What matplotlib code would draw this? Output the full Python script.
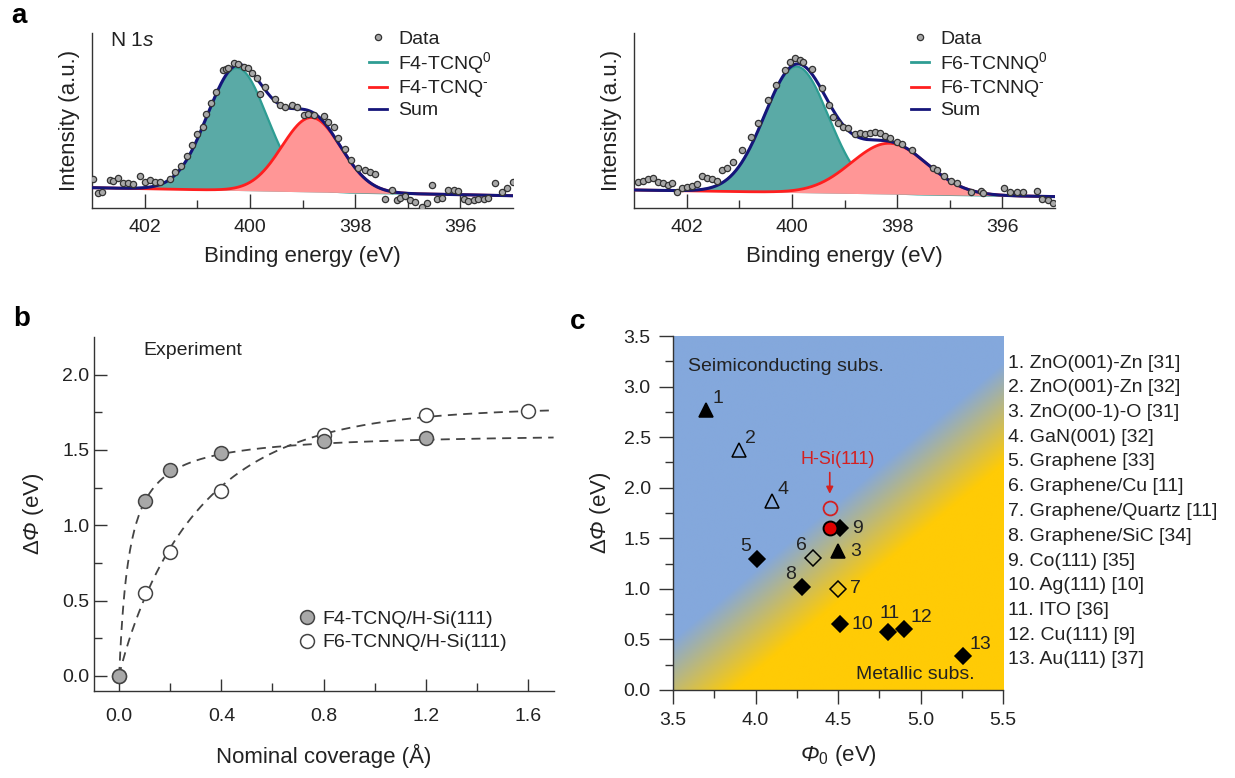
import numpy as np
import matplotlib.pyplot as plt
from matplotlib.lines import Line2D

plt.rcParams['font.family'] = ['Liberation Sans', 'DejaVu Sans']
plt.rcParams['mathtext.fontset'] = 'custom'
plt.rcParams['mathtext.rm'] = 'Liberation Sans'
plt.rcParams['mathtext.it'] = 'Liberation Sans:italic'
plt.rcParams['mathtext.bf'] = 'Liberation Sans:bold'
# slanted Greek capitals are not available through \mathit, so borrow the cal slot
plt.rcParams['mathtext.cal'] = 'Liberation Sans:italic'
plt.rcParams['text.color'] = '#222222'
plt.rcParams['axes.labelcolor'] = '#222222'
plt.rcParams['xtick.color'] = '#333333'
plt.rcParams['ytick.color'] = '#333333'
plt.rcParams['xtick.labelcolor'] = '#222222'
plt.rcParams['ytick.labelcolor'] = '#222222'

W, H = 1235, 778

# ---------------- panel a: N 1s spectra ----------------
f4_energy = [402.98, 402.89, 402.81, 402.66, 402.60, 402.51, 402.41, 402.32, 402.22, 402.09,
             402.00, 401.90, 401.81, 401.71, 401.52, 401.42, 401.30, 401.20, 401.10, 401.00,
             400.89, 400.83, 400.73, 400.64, 400.51, 400.45, 400.41, 400.31, 400.22, 400.12,
             400.03, 399.96, 399.87, 399.81, 399.71, 399.52, 399.43, 399.33, 399.20, 399.11,
             398.98, 398.89, 398.79, 398.60, 398.51, 398.41, 398.32, 398.20, 398.08, 397.95,
             397.82, 397.71, 397.62, 397.43, 397.30, 397.21, 397.14, 397.05, 396.95, 396.86,
             396.73, 396.64, 396.54, 396.45, 396.35, 396.23, 396.13, 396.04, 395.94, 395.85,
             395.75, 395.66, 395.56, 395.47, 395.34, 395.21, 395.11, 395.00]
f4_counts = [16.6, 8.4, 9.0, 16.0, 15.4, 17.3, 14.1, 14.1, 13.5, 18.5,
             15.0, 15.8, 14.7, 15.0, 16.5, 20.4, 24.0, 29.5, 36.0, 42.3,
             46.5, 53.5, 60.0, 66.5, 78.9, 79.4, 79.8, 82.7, 82.1, 80.8,
             79.8, 77.0, 74.5, 65.0, 69.3, 62.3, 58.9, 57.9, 58.9, 57.9,
             53.1, 53.5, 53.1, 52.8, 49.3, 46.5, 39.8, 33.5, 27.5, 23.0,
             21.5, 20.8, 19.3, 5.0, 10.3, 4.6, 5.5, 7.0, 4.6, 3.6,
             0.8, 2.7, 13.1, 5.1, 5.5, 10.3, 10.3, 9.7, 5.1, 4.0,
             4.6, 5.1, 5.1, 5.9, 14.1, 9.3, 11.2, 15.0]

f6_energy = [402.92, 402.82, 402.73, 402.63, 402.54, 402.44, 402.35, 402.28, 402.19, 402.09,
             402.00, 401.90, 401.81, 401.71, 401.62, 401.52, 401.43, 401.33, 401.24, 401.11,
             400.95, 400.78, 400.64, 400.45, 400.30, 400.13, 400.03, 399.94, 399.84, 399.78,
             399.62, 399.43, 399.30, 399.21, 399.12, 399.02, 398.93, 398.80, 398.70, 398.61,
             398.51, 398.42, 398.32, 398.23, 398.13, 398.01, 397.91, 397.72, 397.31, 397.25,
             397.10, 396.97, 396.87, 396.60, 396.40, 396.36, 395.97, 395.85, 395.73, 395.61,
             395.34, 395.25, 395.13, 395.03]
f6_counts = [14.7, 15.4, 16.6, 17.0, 15.0, 14.1, 13.1, 14.1, 9.0, 11.6,
             12.2, 12.7, 13.5, 18.5, 17.3, 16.6, 15.4, 21.7, 22.7, 26.5,
             33.0, 40.6, 48.4, 61.7, 70.0, 78.9, 83.6, 85.5, 84.6, 83.6,
             79.4, 68.4, 59.0, 52.2, 48.4, 46.5, 45.9, 42.1, 42.7, 42.3,
             42.7, 43.2, 42.7, 41.3, 40.2, 37.5, 36.4, 33.0, 22.7, 21.7,
             18.0, 15.5, 14.5, 9.3, 9.9, 8.8, 11.2, 9.3, 9.0, 9.3,
             9.9, 5.0, 4.6, 2.7]

# Gaussian components: (centre / eV, height, sigma / eV); background at 403 eV and 395 eV
f4_neutral = (400.24, 70.0, 0.57)
f4_anion = (398.83, 42.5, 0.56)
f4_bg = (11.6, 7.0)
f6_neutral = (399.91, 72.0, 0.61)
f6_anion = (398.15, 29.0, 0.72)
f6_bg = (10.3, 6.5)

# ---------------- panel b: work function change vs coverage ----------------
f4_cov = [0.0, 0.1, 0.2, 0.4, 0.8, 1.2]
f4_dphi = [0.0, 1.16, 1.37, 1.48, 1.56, 1.58]
f6_cov = [0.0, 0.1, 0.2, 0.4, 0.8, 1.2, 1.6]
f6_dphi = [0.0, 0.55, 0.82, 1.23, 1.60, 1.73, 1.76]
f4_fit = (1.62, 0.04)            # saturation, half-coverage  (Langmuir type)
f6_fit = (1.78, 0.32, 0.92)      # saturation, scale, stretch (stretched exponential)

# ---------------- panel c: literature comparison ----------------
sub_phi0 = [3.70, 3.90, 4.50, 4.10, 4.01, 4.35, 4.50, 4.28, 4.51, 4.51, 4.80, 4.90, 5.26]
sub_dphi = [2.77, 2.37, 1.37, 1.87, 1.30, 1.31, 1.00, 1.02, 1.60, 0.65, 0.57, 0.60, 0.34]
sub_marker = ['^', '^', '^', '^', 'D', 'D', 'D', 'D', 'D', 'D', 'D', 'D', 'D']
sub_filled = [True, False, True, False, True, False, False, True, True, True, True, True, True]
sub_side = ['ur', 'ur', 'r', 'ur', 'ul', 'ul', 'r', 'ul', 'r', 'r', 'u', 'ur', 'ur']
sub_names = ['1. ZnO(001)-Zn [31]', '2. ZnO(001)-Zn [32]', '3. ZnO(00-1)-O [31]',
             '4. GaN(001) [32]', '5. Graphene [33]', '6. Graphene/Cu [11]',
             '7. Graphene/Quartz [11]', '8. Graphene/SiC [34]', '9. Co(111) [35]',
             '10. Ag(111) [10]', '11. ITO [36]', '12. Cu(111) [9]', '13. Au(111) [37]']
hsi_phi0 = 4.45
hsi_dphi_f4 = 1.60
hsi_dphi_f6 = 1.80

TEAL = '#2e9d93'
TEAL_FILL = '#5aaaa6'
RED = '#ff1f1f'
RED_FILL = '#ff9696'
NAVY = '#15157a'
SPINE = '#333333'
DPHI = r'$\Delta\mathcal{\Phi}$ (eV)'


def px_axes(left, top, right, bottom):
    return fig.add_axes([left / W, 1 - bottom / H, (right - left) / W, (bottom - top) / H])


def gauss(e, centre, height, sigma):
    return height * np.exp(-(e - centre) ** 2 / (2 * sigma ** 2))


def background(e, bg):
    hi, lo = bg
    return lo + (hi - lo) * (e - 395) / 8


def style_spines(ax):
    for s in ['top', 'right']:
        ax.spines[s].set_visible(False)
    for s in ['left', 'bottom']:
        ax.spines[s].set_color(SPINE)
        ax.spines[s].set_linewidth(1.0)


def spectrum(ax, energy, counts, neutral, anion, bg, name):
    e = np.linspace(395, 403, 600)
    base = background(e, bg)
    c0 = base + gauss(e, *neutral)
    c1 = base + gauss(e, *anion)
    total = base + gauss(e, *neutral) + gauss(e, *anion)
    ax.fill_between(e, base, c0, color=TEAL_FILL, lw=0, zorder=1)
    ax.plot(e, c0, color=TEAL, lw=1.6, zorder=2)
    ax.fill_between(e, base, c1, color=RED_FILL, lw=0, zorder=3)
    ax.plot(e, c1, color=RED, lw=2.0, zorder=4)
    ax.plot(e, total, color=NAVY, lw=2.2, zorder=5)
    ax.plot(energy, counts, 'o', ms=4.5, mfc='#a8a8a8', mec='#333333', mew=0.9, zorder=6)

    ax.set_xlim(403, 395)
    ax.set_ylim(0, 100)
    ax.set_xticks([402, 400, 398, 396])
    ax.set_xticks([401, 399, 397], minor=True)
    ax.set_yticks([])
    style_spines(ax)
    ax.tick_params(axis='x', which='major', direction='in', length=10, width=1, labelsize=14, pad=8)
    ax.tick_params(axis='x', which='minor', direction='in', length=6, width=1)
    ax.set_xlabel('Binding energy (eV)', fontsize=16, labelpad=7)
    ax.set_ylabel('Intensity (a.u.)', fontsize=16, labelpad=9)

    handles = [Line2D([], [], ls='none', marker='o', ms=4.5, mfc='#a8a8a8', mec='#333333', mew=0.9),
               Line2D([], [], color=TEAL, lw=2),
               Line2D([], [], color=RED, lw=2),
               Line2D([], [], color=NAVY, lw=2)]
    labels = ['Data', name + r'$^0$', name + r'$^{\text{-}}$', 'Sum']
    ax.legend(handles, labels, loc='upper left', bbox_to_anchor=(0.64, 1.06), frameon=False,
              fontsize=14, handlelength=0.9, handletextpad=0.6, labelspacing=0.12, borderaxespad=0)


fig = plt.figure(figsize=(W / 100, H / 100), dpi=100)

ax_a1 = px_axes(92, 33, 513, 208)
spectrum(ax_a1, f4_energy, f4_counts, f4_neutral, f4_anion, f4_bg, 'F4-TCNQ')
ax_a1.text(0.043, 0.955, 'N 1$\\it{s}$', transform=ax_a1.transAxes, fontsize=15,
           ha='left', va='center')

ax_a2 = px_axes(634, 33, 1055, 208)
spectrum(ax_a2, f6_energy, f6_counts, f6_neutral, f6_anion, f6_bg, 'F6-TCNNQ')

# panel b
ax_b = px_axes(93.6, 337, 553.6, 691)
cov = np.linspace(0, 1.7, 400)
fit4 = f4_fit[0] * cov / (cov + f4_fit[1])
fit6 = f6_fit[0] * (1 - np.exp(-(cov / f6_fit[1]) ** f6_fit[2]))
ax_b.plot(cov, fit4, color='#444444', lw=1.3, dashes=(5, 3.5), zorder=1)
ax_b.plot(cov, fit6, color='#444444', lw=1.3, dashes=(5, 3.5), zorder=1)
ax_b.plot(f6_cov, f6_dphi, 'o', ms=10, mfc='white', mec='#444444', mew=1.1, zorder=2)
ax_b.plot(f4_cov, f4_dphi, 'o', ms=10, mfc='#a8a8a8', mec='#444444', mew=1.1, zorder=3)
ax_b.set_xlim(-0.1, 1.7)
ax_b.set_ylim(-0.1, 2.25)
ax_b.set_xticks([0.0, 0.4, 0.8, 1.2, 1.6])
ax_b.set_xticks([0.2, 0.6, 1.0, 1.4], minor=True)
ax_b.set_yticks([0.0, 0.5, 1.0, 1.5, 2.0])
ax_b.set_yticks([0.25, 0.75, 1.25, 1.75], minor=True)
style_spines(ax_b)
ax_b.tick_params(which='major', direction='in', length=9, width=1, labelsize=14)
ax_b.tick_params(which='minor', direction='in', length=6, width=1)
ax_b.tick_params(axis='x', pad=12)
ax_b.tick_params(axis='y', pad=3)
ax_b.set_xlabel('Nominal coverage (Å)', fontsize=16, labelpad=14)
ax_b.set_ylabel(DPHI, fontsize=16, labelpad=12)
ax_b.text(0.093, 2.16, 'Experiment', fontsize=14, ha='left', va='center')
leg_b = [Line2D([], [], ls='none', marker='o', ms=10, mfc='#a8a8a8', mec='#444444', mew=1.1),
         Line2D([], [], ls='none', marker='o', ms=10, mfc='white', mec='#444444', mew=1.1)]
ax_b.legend(leg_b, ['F4-TCNQ/H-Si(111)', 'F6-TCNNQ/H-Si(111)'], loc='upper left',
            bbox_to_anchor=(0.43, 0.25), frameon=False, fontsize=14, handlelength=0.8,
            handletextpad=0.4, labelspacing=0.3, borderaxespad=0)

# panel c
ax_c = px_axes(673, 336, 1003, 690)
gx = np.linspace(3.5, 5.5, 500)
gy = np.linspace(0, 3.5, 500)
X, Y = np.meshgrid(gx, gy)
d = Y - 1.37 * (X - 3.5)
t = np.clip(0.5 - d / 1.0, 0, 1)[..., None]
blue = np.array([132, 168, 220]) / 255
yellow = np.array([255, 203, 5]) / 255
rgb = (1 - t) * blue + t * yellow
ax_c.imshow(rgb, extent=(3.5, 5.5, 0, 3.5), origin='lower', aspect='auto',
            interpolation='bilinear', zorder=0)

offsets = {'ur': ((6, 3), 'left', 'bottom'),
           'ul': ((-6, 4), 'right', 'bottom'),
           'r': ((12, 0), 'left', 'center'),
           'u': ((2, 10), 'center', 'bottom')}
for i in range(len(sub_phi0)):
    face = 'black' if sub_filled[i] else 'none'
    ms = 9.5 if sub_marker[i] == '^' else 7.8
    ax_c.plot(sub_phi0[i], sub_dphi[i], sub_marker[i], ms=ms, mfc=face, mec='black',
              mew=1.1, zorder=3)
    (dx, dy), ha, va = offsets[sub_side[i]]
    ax_c.annotate(str(i + 1), (sub_phi0[i], sub_dphi[i]), xytext=(dx, dy),
                  textcoords='offset pixels', ha=ha, va=va, fontsize=14, zorder=4)

ax_c.plot(hsi_phi0, hsi_dphi_f4, 'o', ms=10, mfc='#e00000', mec='black', mew=1.4, zorder=5)
ax_c.plot(hsi_phi0, hsi_dphi_f6, 'o', ms=10, mfc='none', mec='#d42020', mew=1.3, zorder=5)
ax_c.annotate('', xy=(hsi_phi0, 1.94), xytext=(hsi_phi0, 2.15),
              arrowprops=dict(arrowstyle='-|>', color='#d42020', lw=1.2,
                              mutation_scale=10, shrinkA=0, shrinkB=0))
ax_c.text(4.5, 2.28, 'H-Si(111)', color='#d42020', fontsize=13, ha='center', va='center')
ax_c.text(3.59, 3.2, 'Seimiconducting subs.', fontsize=14, ha='left', va='center')
ax_c.text(5.33, 0.15, 'Metallic subs.', fontsize=14, ha='right', va='center')

ax_c.set_xlim(3.5, 5.5)
ax_c.set_ylim(0, 3.5)
ax_c.set_xticks(np.arange(3.5, 5.51, 0.5))
ax_c.set_xticks(np.arange(3.75, 5.5, 0.5), minor=True)
ax_c.set_yticks(np.arange(0, 3.51, 0.5))
ax_c.set_yticks(np.arange(0.25, 3.5, 0.5), minor=True)
style_spines(ax_c)
ax_c.tick_params(which='major', direction='out', length=10, width=1, labelsize=14, pad=6)
ax_c.tick_params(which='minor', direction='out', length=6, width=1)
ax_c.set_xlabel(r'$\mathcal{\Phi}_0$ (eV)', fontsize=16, labelpad=10)
ax_c.set_ylabel(DPHI, fontsize=16, labelpad=8)

for i, name in enumerate(sub_names):
    fig.text(1008 / W, 1 - (363 + i * 24.75) / H, name, fontsize=14, ha='left', va='center')

for letter, x, y in [('a', 19, 16), ('b', 22, 319), ('c', 578, 322)]:
    fig.text(x / W, 1 - y / H, letter, fontsize=20, fontweight='bold', ha='center', va='center',
             color='black')

fig.savefig('out.png', dpi=100)
